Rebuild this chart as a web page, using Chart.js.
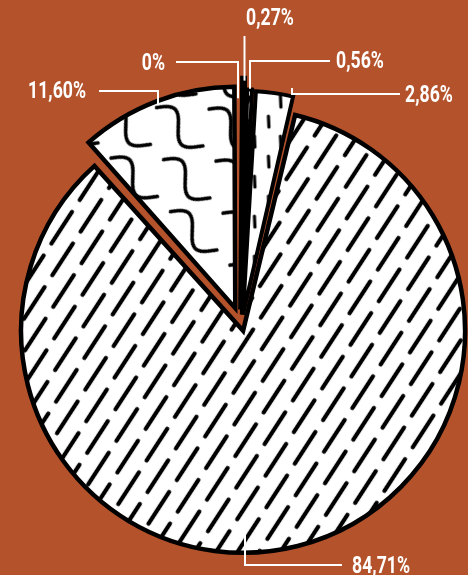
<!DOCTYPE html>
<html>
<head>
<meta charset="utf-8">
<script src="https://cdn.jsdelivr.net/npm/chart.js@4.4.1/dist/chart.umd.min.js"></script>
<style>
html,body{margin:0;padding:0;background:#b4532b;overflow:hidden;width:468px;height:575px;}
canvas{display:block;}
</style>
</head>
<body>
<canvas id="c" width="468" height="575"></canvas>
<script>
// ---- data ----
const categories = ['0,27%', '0,56%', '2,86%', '84,71%', '11,60%', '0%'];
const shares = [0.27, 0.56, 2.86, 84.71, 11.60, 0];
const labelTexts = ['0,27%', '0,56%', '2,86%', '84,71%', '11,60%', '0%'];

// ---- layout / style ----
const sliceOffsets = [60, 40, 40, 26, 70, 0];
const sliceBorders = [7, 4, 4, 4.5, 4.5, 4];
const FONT = 'bold 23px Roboto, "DejaVu Sans", sans-serif';
const TEXT_REF = '84,71%', TEXT_REF_WIDTH = 58;
// anchor: clock angle in degrees (null = slice middle), fraction of radius
const labelLayout = [
  {angle: null, f: 0.93, mode: 'v', lineTop: 36, tx: 246, ty: 25, align: 'left'},
  {angle: null, f: 0.96, mode: 'elbow', ly: 61, lx: 330, tx: 336, ty: 68, align: 'left'},
  {angle: 12.5, f: 1.0, mode: 'elbow', ly: 94, lx: 400, tx: 405, ty: 102, align: 'left'},
  {angle: 180, f: 0.88, mode: 'elbow', ly: 565, lx: 342, tx: 352, ty: 573, align: 'left'},
  {angle: null, f: 0.955, mode: 'elbow', ly: 91, lx: 99, tx: 86, ty: 98, align: 'right'},
  {angle: -1.0, f: 1.05, mode: 'elbow', ly: 62, lx: 176, tx: 165, ty: 70, align: 'right'}
];

function makeTile(w, h, draw) {
  const c = document.createElement('canvas');
  c.width = w; c.height = h;
  const g = c.getContext('2d');
  g.fillStyle = '#fff'; g.fillRect(0, 0, w, h);
  g.strokeStyle = '#000'; g.lineCap = 'round'; g.lineJoin = 'round';
  draw(g, w, h);
  return c;
}
const mainCtx = document.getElementById('c').getContext('2d');
function pattern(tile, rot) {
  const p = mainCtx.createPattern(tile, 'repeat');
  if (rot) p.setTransform(new DOMMatrix().rotateSelf(rot));
  return p;
}
// diagonal dashes (big slice)
const diagPattern = pattern(makeTile(36, 52, (g, w, h) => {
  g.lineWidth = 4.2;
  for (const dy of [-h, 0, h]) {
    g.beginPath(); g.moveTo(9, 4 + dy); g.lineTo(9, 42 + dy); g.stroke();
    g.beginPath(); g.moveTo(27, 30 + dy); g.lineTo(27, 68 + dy); g.stroke();
  }
}), 33);
// wavy lines (11,60 slice)
const wavePattern = pattern(makeTile(80, 68, (g, w, h) => {
  g.lineWidth = 3.6;
  const lam = 58, A = 11, k = 2 * Math.PI / lam;
  const stroke = (x0, y0) => {
    g.beginPath();
    for (let t = 0; t <= 1.04 * lam; t += 1) {
      const x = x0 + t;
      const y = y0 + A * Math.sin(k * (t + lam / 2));
      if (t === 0) g.moveTo(x, y); else g.lineTo(x, y);
    }
    g.stroke();
  };
  for (const dx of [-w, 0, w]) for (const dy of [-h, 0, h]) {
    stroke(4 + dx, 17 + dy);
    stroke(4 + w / 2 + dx, 51 + dy);
  }
}), 42);
// crosses (0,56 slice)
const crossPattern = pattern(makeTile(20, 24, (g) => {
  g.lineWidth = 3;
  g.save(); g.translate(10, 12); g.rotate(0.5);
  g.beginPath(); g.moveTo(-6, 0); g.lineTo(6, 0); g.moveTo(0, -5); g.lineTo(0, 5); g.stroke();
  g.restore();
}), 0);
// short dashes (2,86 slice)
const tickPattern = pattern(makeTile(26, 40, (g) => {
  g.lineWidth = 3.2;
  g.beginPath(); g.moveTo(7, 6); g.lineTo(7.5, 17); g.stroke();
  g.beginPath(); g.moveTo(19, 26); g.lineTo(19.5, 37); g.stroke();
}), 0);

const fills = ['#000', crossPattern, tickPattern, diagPattern, wavePattern, '#fff'];

function anchorPoint(arc, i, L) {
  const p = arc.getProps(['x', 'y', 'startAngle', 'endAngle', 'outerRadius', 'circumference'], true);
  const O = (sliceOffsets[i] || 0) / 4;
  const fix = 1 - Math.sin(Math.min(Math.PI, p.circumference || 0));
  const T = O * (1 + fix);
  const half = (p.startAngle + p.endAngle) / 2;
  const rr = p.outerRadius + O * fix;
  const phi = L.angle === null ? half : (L.angle - 90) * Math.PI / 180;
  return {
    x: p.x + Math.cos(half) * T + Math.cos(phi) * rr * L.f,
    y: p.y + Math.sin(half) * T + Math.sin(phi) * rr * L.f
  };
}

const labelPlugin = {
  id: 'sliceLabels',
  afterDatasetsDraw(chart) {
    const ctx = chart.ctx;
    const meta = chart.getDatasetMeta(0);
    ctx.save();
    ctx.strokeStyle = '#fff';
    ctx.fillStyle = '#fff';
    ctx.lineWidth = 2;
    ctx.lineCap = 'butt';
    ctx.font = FONT;
    ctx.textBaseline = 'alphabetic';
    const sx = TEXT_REF_WIDTH / ctx.measureText(TEXT_REF).width;
    labelLayout.forEach((L, i) => {
      const a = anchorPoint(meta.data[i], i, L);
      ctx.beginPath();
      if (L.mode === 'v') {
        ctx.moveTo(Math.round(a.x) + 0.5, a.y);
        ctx.lineTo(Math.round(a.x) + 0.5, L.lineTop);
      } else {
        const ax = Math.round(a.x);
        ctx.moveTo(ax, a.y);
        ctx.lineTo(ax, L.ly);
        ctx.lineTo(L.lx, L.ly);
      }
      ctx.stroke();
      ctx.save();
      ctx.translate(L.tx, L.ty);
      ctx.scale(sx, 1);
      ctx.textAlign = L.align;
      ctx.fillText(labelTexts[i], 0, 0);
      ctx.restore();
    });
    ctx.restore();
  }
};

new Chart(document.getElementById('c'), {
  type: 'pie',
  data: {
    labels: categories,
    datasets: [{
      data: shares,
      backgroundColor: fills,
      borderColor: '#000',
      borderWidth: sliceBorders,
      borderJoinStyle: 'miter',
      offset: sliceOffsets,
      radius: 215.5,
      clip: false
    }]
  },
  options: {
    responsive: false,
    animation: false,
    events: [],
    layout: {padding: {left: 15, right: 0, top: 74, bottom: 0}},
    plugins: {legend: {display: false}, tooltip: {enabled: false}, title: {display: false}}
  },
  plugins: [labelPlugin]
});
</script>
</body>
</html>
